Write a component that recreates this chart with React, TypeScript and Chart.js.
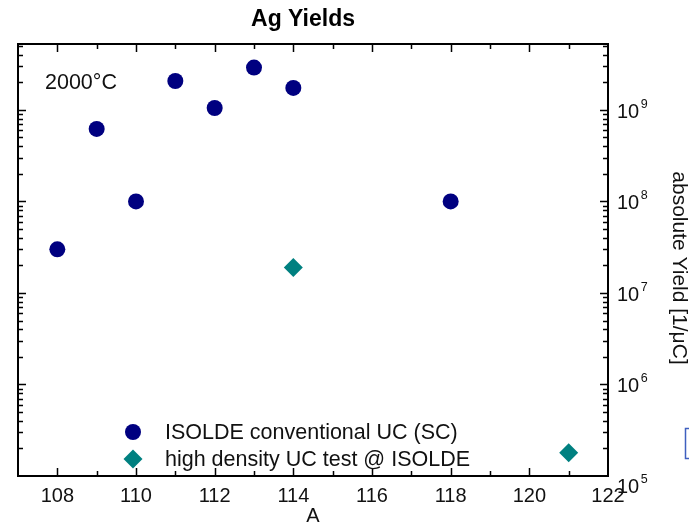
import { useEffect, useRef } from "react";
import { Chart, registerables } from "chart.js";

Chart.register(...registerables);

const titleText = "Ag Yields";
const xAxisTitle = "A";
const yAxisTitle = "absolute Yield [1/μC]";
const annotationText = "2000°C";
const seriesLabels = ["ISOLDE conventional UC (SC)", "high density UC test @ ISOLDE"];

const conventionalMass = [108, 109, 110, 111, 112, 113, 114, 118];
const conventionalYield = [3.0e7, 6.2e8, 1.0e8, 2.07e9, 1.05e9, 2.9e9, 1.74e9, 1.0e8];
const highDensityMass = [114, 121];
const highDensityYield = [1.9e7, 1.8e5];

const xTickLabels = [108, 110, 112, 114, 116, 118, 120, 122];
const yDecadeExponents = [5, 6, 7, 8, 9];

const X_MIN = 107;
const X_MAX = 122;
const Y_MIN = 1e5;
const Y_MAX = 5.25e9;

const NAVY = "#000080";
const TEAL = "#008080";
const FONT = '"Liberation Sans", Arial, Helvetica, sans-serif';

const decorPlugin = {
  id: "decor",
  afterDraw(chart: any) {
    const ctx: CanvasRenderingContext2D = chart.ctx;
    const xs = chart.scales.x;
    const ys = chart.scales.y;
    const { left, right, top, bottom } = chart.chartArea;
    ctx.save();

    // frame
    ctx.strokeStyle = "#000";
    ctx.lineWidth = 2;
    ctx.beginPath();
    ctx.rect(left, top, right - left, bottom - top);
    ctx.stroke();

    // x ticks
    ctx.lineWidth = 1.5;
    ctx.beginPath();
    for (let v = Math.ceil(X_MIN) + 1; v < X_MAX; v++) {
      const px = Math.round(xs.getPixelForValue(v)) + 0.5;
      const len = v % 2 === 0 ? 8 : 5;
      ctx.moveTo(px, bottom);
      ctx.lineTo(px, bottom - len);
      ctx.moveTo(px, top);
      ctx.lineTo(px, top + len);
    }
    // y ticks (log)
    for (let d = 4; d <= 10; d++) {
      for (let m = 1; m <= 9; m++) {
        const v = m * Math.pow(10, d);
        if (v <= Y_MIN || v >= Y_MAX) continue;
        const py = Math.round(ys.getPixelForValue(v)) + 0.5;
        const len = m === 1 ? 8 : 5;
        ctx.moveTo(left, py);
        ctx.lineTo(left + len, py);
        ctx.moveTo(right, py);
        ctx.lineTo(right - len, py);
      }
    }
    ctx.stroke();

    ctx.fillStyle = "#111";
    // x tick labels
    ctx.font = `20px ${FONT}`;
    ctx.textAlign = "center";
    ctx.textBaseline = "alphabetic";
    for (const v of xTickLabels) {
      ctx.fillText(String(v), xs.getPixelForValue(v), bottom + 26);
    }
    // x axis title
    ctx.fillText(xAxisTitle, (left + right) / 2, bottom + 46);

    // y tick labels with superscripts
    ctx.textAlign = "left";
    for (const e of yDecadeExponents) {
      const py = ys.getPixelForValue(Math.pow(10, e));
      const base = e === 5 ? py + 17 : py + 8;
      ctx.font = `20px ${FONT}`;
      const x0 = right + 9;
      ctx.fillText("10", x0, base);
      const w = ctx.measureText("10").width;
      ctx.font = `12.5px ${FONT}`;
      ctx.fillText(String(e), x0 + w + 1.5, base - 10);
    }

    // y axis title, rotated clockwise
    ctx.save();
    ctx.translate(679, (top + bottom) / 2 + 8);
    ctx.rotate(Math.PI / 2);
    ctx.font = `21px ${FONT}`;
    ctx.textAlign = "center";
    ctx.textBaseline = "middle";
    ctx.fillText(yAxisTitle, 0, 0);
    ctx.restore();

    // title
    ctx.font = `bold 23px ${FONT}`;
    ctx.textAlign = "center";
    ctx.textBaseline = "alphabetic";
    ctx.fillStyle = "#000";
    ctx.fillText(titleText, 303, 26);

    // annotation
    ctx.font = `21.5px ${FONT}`;
    ctx.textAlign = "left";
    ctx.fillStyle = "#111";
    ctx.fillText(annotationText, left + 27, 89);

    // legend
    const lx = 133;
    const ly = [432, 459];
    ctx.fillStyle = NAVY;
    ctx.beginPath();
    ctx.arc(lx, ly[0], 8, 0, Math.PI * 2);
    ctx.fill();
    ctx.fillStyle = TEAL;
    ctx.beginPath();
    const r = 9.5;
    ctx.moveTo(lx, ly[1] - r);
    ctx.lineTo(lx + r, ly[1]);
    ctx.lineTo(lx, ly[1] + r);
    ctx.lineTo(lx - r, ly[1]);
    ctx.closePath();
    ctx.fill();
    ctx.fillStyle = "#111";
    ctx.font = `21.5px ${FONT}`;
    ctx.textBaseline = "middle";
    ctx.fillText(seriesLabels[0], 165, ly[0] + 1);
    ctx.fillText(seriesLabels[1], 165, ly[1] + 1);

    // small blue fragment at right edge
    ctx.strokeStyle = "#3f5fbf";
    ctx.lineWidth = 1.5;
    ctx.beginPath();
    ctx.moveTo(692, 428.5);
    ctx.lineTo(685.5, 428.5);
    ctx.lineTo(685.5, 458.5);
    ctx.lineTo(692, 458.5);
    ctx.stroke();

    ctx.restore();
  },
};

export default function App() {
  const ref = useRef<HTMLCanvasElement | null>(null);
  useEffect(() => {
    document.body.style.margin = "0";
    const canvas = ref.current;
    if (!canvas) return;
    const chart = new Chart(canvas, {
      type: "scatter",
      data: {
        datasets: [
          {
            label: seriesLabels[0],
            data: conventionalMass.map((x, i) => ({ x, y: conventionalYield[i] })),
            backgroundColor: NAVY,
            borderColor: NAVY,
            pointStyle: "circle",
            pointRadius: 8,
            borderWidth: 0,
          },
          {
            label: seriesLabels[1],
            data: highDensityMass.map((x, i) => ({ x, y: highDensityYield[i] })),
            backgroundColor: TEAL,
            borderColor: TEAL,
            pointStyle: "rectRot",
            pointRadius: 9.5,
            borderWidth: 0,
          },
        ],
      },
      options: {
        responsive: false,
        animation: false,
        devicePixelRatio: 1,
        layout: { padding: { left: 18, right: 81, top: 44, bottom: 48 } },
        plugins: {
          legend: { display: false },
          title: { display: false },
          tooltip: { enabled: false },
        },
        scales: {
          x: { type: "linear", min: X_MIN, max: X_MAX, display: false },
          y: { type: "logarithmic", min: Y_MIN, max: Y_MAX, display: false },
        },
      },
      plugins: [decorPlugin],
    });
    return () => chart.destroy();
  }, []);
  return (
    <div style={{ position: "absolute", left: 0, top: 0, width: 689, height: 524, background: "#fff" }}>
      <canvas ref={ref} width={689} height={524} style={{ display: "block", width: 689, height: 524 }} />
    </div>
  );
}
